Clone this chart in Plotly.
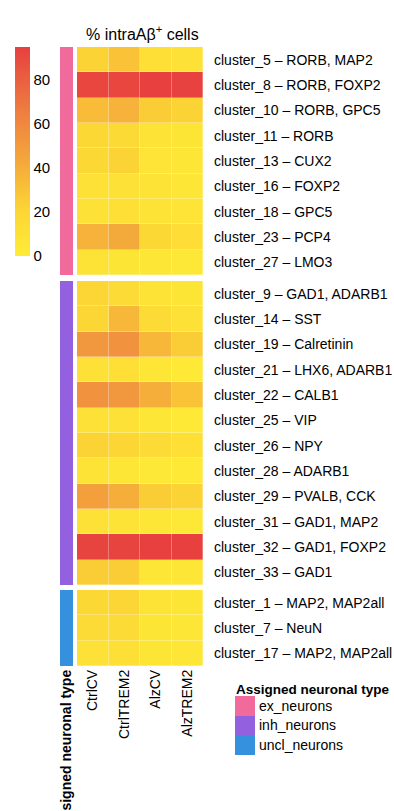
import plotly.graph_objects as go

W, H = 394, 811

conditions = ["CtrlCV", "CtrlTREM2", "AlzCV", "AlzTREM2"]

ex_labels = ["cluster_5 – RORB, MAP2", "cluster_8 – RORB, FOXP2", "cluster_10 – RORB, GPC5",
             "cluster_11 – RORB", "cluster_13 – CUX2", "cluster_16 – FOXP2",
             "cluster_18 – GPC5", "cluster_23 – PCP4", "cluster_27 – LMO3"]
ex_values = [[22, 30, 12, 10],
             [92, 92, 95, 94],
             [33, 38, 25, 22],
             [18, 16, 8, 6],
             [18, 22, 7, 5],
             [10, 10, 8, 5],
             [10, 12, 8, 7],
             [38, 42, 18, 14],
             [8, 6, 5, 4]]

inh_labels = ["cluster_9 – GAD1, ADARB1", "cluster_14 – SST", "cluster_19 – Calretinin",
              "cluster_21 – LHX6, ADARB1", "cluster_22 – CALB1", "cluster_25 – VIP",
              "cluster_26 – NPY", "cluster_28 – ADARB1", "cluster_29 – PVALB, CCK",
              "cluster_31 – GAD1, MAP2", "cluster_32 – GAD1, FOXP2", "cluster_33 – GAD1"]
inh_values = [[20, 15, 8, 6],
              [20, 35, 15, 10],
              [52, 54, 35, 25],
              [10, 12, 5, 3],
              [54, 52, 40, 30],
              [10, 10, 5, 3],
              [22, 20, 15, 12],
              [8, 5, 4, 3],
              [47, 40, 25, 22],
              [10, 8, 5, 4],
              [93, 93, 95, 95],
              [25, 25, 5, 5]]

uncl_labels = ["cluster_1 – MAP2, MAP2all", "cluster_7 – NeuN", "cluster_17 – MAP2, MAP2all"]
uncl_values = [[18, 20, 8, 6],
               [15, 15, 6, 5],
               [10, 12, 6, 5]]

types = ["ex_neurons", "inh_neurons", "uncl_neurons"]
type_colors = ["#F06A9B", "#9360E0", "#3590DD"]
type_title = "Assigned neuronal type"
value_title = "% intraAβ<sup>+</sup> cells"
cbar_ticks = [0, 20, 40, 60, 80]

colorscale = [[0.0, "#FEEC37"], [0.22, "#FCD535"], [0.45, "#F4A83B"],
              [0.68, "#EE8040"], [0.85, "#EA5E40"], [1.0, "#E7403F"]]
ZMAX = 95

FONT = "Liberation Sans, Arial, sans-serif"
FS = 14

def py(px):
    return 1 - px / H

def pxw(px):
    return px / W

groups = [(ex_labels, ex_values, 47, 275),
          (inh_labels, inh_values, 281, 585),
          (uncl_labels, uncl_values, 590, 666)]

fig = go.Figure()
layout = {}
type_scale = [[0, type_colors[0]], [0.3333, type_colors[0]],
              [0.3333, type_colors[1]], [0.6667, type_colors[1]],
              [0.6667, type_colors[2]], [1, type_colors[2]]]

common = dict(showgrid=False, zeroline=False, automargin=False, ticks="", showline=False)

for gi, (labels, vals, top, bot) in enumerate(groups):
    hx = f"x{2*gi+1}" if gi > 0 else "x"
    hy = f"y{gi+1}" if gi > 0 else "y"
    ax = f"x{2*gi+2}"
    ayn = f"y{gi+4}"
    fig.add_trace(go.Heatmap(
        z=vals, x=conditions, y=labels, xaxis=hx, yaxis=hy,
        colorscale=colorscale, zmin=0, zmax=ZMAX, xgap=0.3, ygap=0.3,
        showscale=(gi == 0), hoverinfo="skip",
        colorbar=dict(x=pxw(15), xanchor="left", y=py(47), yanchor="top",
                      len=(256 - 47) / H, lenmode="fraction", thickness=15,
                      outlinewidth=0, tickvals=cbar_ticks, ticks="",
                      tickfont=dict(size=15, family=FONT, color="#000"),
                      xpad=0, ypad=0),
    ))
    fig.add_trace(go.Heatmap(
        z=[[gi + 1] for _ in labels], x=[type_title], y=labels,
        xaxis=ax, yaxis=ayn, hoverinfo="skip",
        colorscale=type_scale, zmin=1, zmax=3, showscale=False,
    ))
    dom_y = [py(bot), py(top)]
    hxk = "xaxis" if gi == 0 else f"xaxis{2*gi+1}"
    hyk = "yaxis" if gi == 0 else f"yaxis{gi+1}"
    layout[hxk] = dict(domain=[pxw(77), pxw(203)], anchor=hy, showticklabels=(gi == 2),
                       tickangle=-90, **common,
                       tickfont=dict(size=FS, family=FONT, color="#000"))
    layout[hyk] = dict(domain=dom_y, anchor=hx, side="right", autorange="reversed",
                       ticklabelstandoff=10, **common,
                       tickfont=dict(size=FS, family=FONT, color="#000"))
    layout[f"xaxis{2*gi+2}"] = dict(domain=[pxw(60), pxw(73)], anchor=ayn,
                                    showticklabels=(gi == 2), tickangle=-90, **common,
                                    tickfont=dict(size=FS, family=FONT, color="#000",
                                                  weight="bold"))
    layout[f"yaxis{gi+4}"] = dict(domain=dom_y, anchor=f"x{2*gi+2}", autorange="reversed",
                                  showticklabels=False, **common)

# legend as a small heatmap
fig.add_trace(go.Heatmap(
    z=[[1], [2], [3]], x=["key"], y=types, xaxis="x7", yaxis="y7", hoverinfo="skip",
    colorscale=type_scale, zmin=1, zmax=3, showscale=False,
))
layout["xaxis7"] = dict(domain=[pxw(235), pxw(255)], anchor="y7", showticklabels=False,
                        **common)
layout["yaxis7"] = dict(domain=[py(755), py(696)], anchor="x7", side="right",
                        autorange="reversed", ticklabelstandoff=3, **common,
                        tickfont=dict(size=FS, family=FONT, color="#000"))

fig.update_layout(
    width=W, height=H, margin=dict(l=0, r=0, t=0, b=0, autoexpand=False),
    paper_bgcolor="white", plot_bgcolor="white",
    font=dict(family=FONT, color="#000"),
    **layout,
    annotations=[
        dict(text=value_title, x=pxw(142), y=py(33), xref="paper", yref="paper",
             showarrow=False, xanchor="center", yanchor="middle",
             font=dict(size=16, family=FONT, color="#000")),
        dict(text="<b>" + type_title + "</b>", x=pxw(234), y=py(689), xref="paper",
             yref="paper", showarrow=False, xanchor="left", yanchor="middle",
             font=dict(size=13.5, family=FONT, color="#000")),
    ],
)

fig.write_html("out.html",
               config={"displayModeBar": False, "responsive": False},
               post_script="document.body.style.margin='0';document.body.style.overflow='hidden';")
